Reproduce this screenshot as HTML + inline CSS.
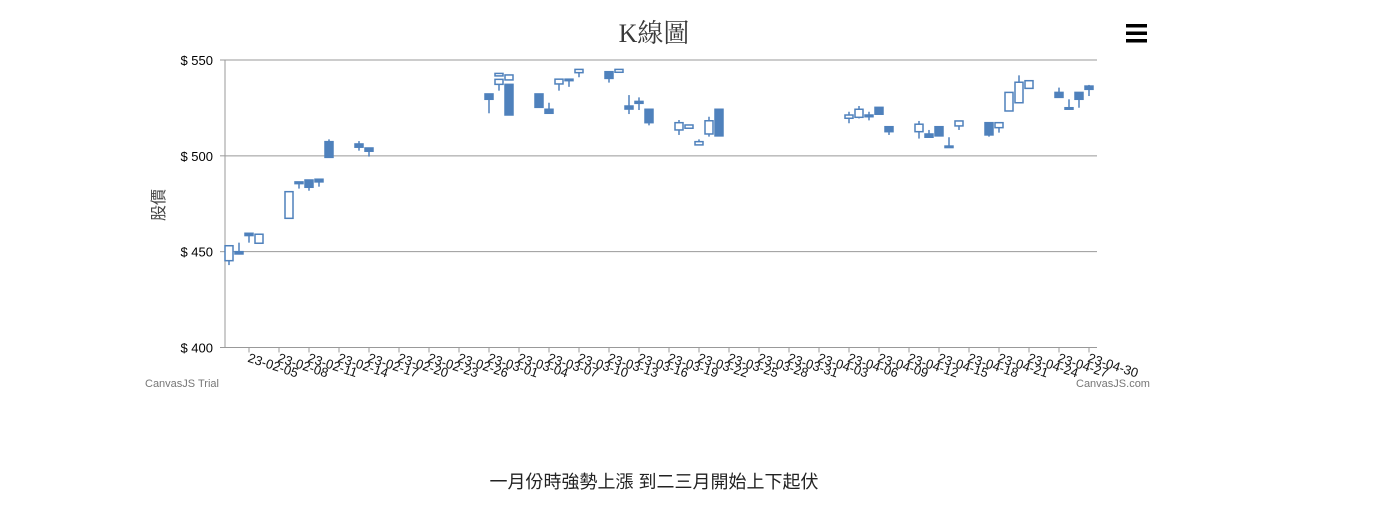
<!DOCTYPE html>
<html><head><meta charset="utf-8"><style>
body{margin:0;width:1398px;height:518px;background:#fff;overflow:hidden;font-family:"Liberation Sans","Noto Sans CJK TC",sans-serif}
</style></head><body>
<svg id="chart" width="1398" height="518" xmlns="http://www.w3.org/2000/svg">
<text x="654" y="42" text-anchor="middle" font-size="26" fill="#3a3a3a" font-family="Liberation Serif,'Noto Serif CJK SC',serif">K線圖</text>
<g><rect x="1126" y="24" width="21" height="3.5" fill="#000"/><rect x="1126" y="31.5" width="21" height="3.5" fill="#000"/><rect x="1126" y="39" width="21" height="3.5" fill="#000"/></g>
<text transform="translate(164,205) rotate(-90)" text-anchor="middle" font-size="16" fill="#444" font-family="'Noto Sans CJK TC',sans-serif">股價</text>
<g id="grid"></g><g id="xaxis"></g><g id="candles"></g>
<text x="145" y="387" font-size="11" fill="#777">CanvasJS Trial</text>
<text x="1076" y="387" font-size="11" fill="#777">CanvasJS.com</text>
<text x="654" y="488" text-anchor="middle" font-size="18" fill="#222" font-family="'Liberation Sans','Noto Sans CJK TC',sans-serif">一月份時強勢上漲 到二三月開始上下起伏</text>
</svg>
<script>
const dates=["2023-02-03","2023-02-04","2023-02-05","2023-02-06","2023-02-09","2023-02-10","2023-02-11","2023-02-12","2023-02-13","2023-02-16","2023-02-17","2023-03-01","2023-03-02","2023-03-02","2023-03-03","2023-03-03","2023-03-06","2023-03-07","2023-03-08","2023-03-09","2023-03-10","2023-03-13","2023-03-14","2023-03-15","2023-03-16","2023-03-17","2023-03-20","2023-03-21","2023-03-22","2023-03-23","2023-03-24","2023-04-06","2023-04-07","2023-04-08","2023-04-09","2023-04-10","2023-04-13","2023-04-14","2023-04-15","2023-04-16","2023-04-17","2023-04-20","2023-04-21","2023-04-22","2023-04-23","2023-04-24","2023-04-27","2023-04-28","2023-04-29","2023-04-30"];
const opens=[445.3,450,459.6,454.4,467.4,486.4,487.4,487.8,507.4,506.2,504.1,532.3,541.7,537.3,539.6,537.3,532.3,524.3,537.5,540,543.4,543.9,543.6,526,528.4,524.3,513.5,514.4,505.7,511.4,524.3,519.6,520.1,521.3,525.3,515.2,512.6,511.4,515.2,505.1,515.6,517.3,514.7,523.4,527.7,535.2,533.1,525.1,533.1,536.4];
const closes=[453.1,448.8,458.4,459.1,481.3,485.5,483.6,486.4,499.2,504.5,502.4,529.5,543,539.9,542.2,521.3,525.3,522.2,540,539.6,545.1,540.4,545.1,524.4,527.4,517.3,517.3,516.1,507.4,518.3,510.4,521.3,524.3,520.4,521.7,512.6,516.5,509.7,510.4,504.4,518.2,510.9,517.3,533.1,538.4,539.2,530.5,524.6,529.5,534.7];
const highs=[453.1,454.7,459.6,459.1,481.3,486.4,487.4,487.8,508.6,507.7,504.1,532.3,543,539.9,542.2,537.3,532.3,527.7,540,540,545.1,543.9,545.1,531.7,530.5,524.3,518.7,516.1,508.6,520.4,524.3,523,526,523,525.3,515.2,518.2,513.5,515.2,509.7,518.2,517.3,517.3,533.1,542,539.2,535.6,529.5,533.1,537];
const lows=[443,448.5,454.7,454.4,467.4,482.9,481.8,483.9,499.2,502.7,499.6,522.2,543,534,539.6,521.3,525.3,522.2,534,536,541,538.2,543.6,521.8,523.9,515.9,510.9,514.4,505.7,510,510.4,517,519.5,518.5,521.7,510.9,509,509.7,510.4,504.4,513.5,510,512.1,523.4,527.7,535.2,530.5,524.6,525.1,531.2];
const yTicks=[400,450,500,550];
const xTickLabels=["23-02-05","23-02-08","23-02-11","23-02-14","23-02-17","23-02-20","23-02-23","23-02-26","23-03-01","23-03-04","23-03-07","23-03-10","23-03-13","23-03-16","23-03-19","23-03-22","23-03-25","23-03-28","23-03-31","23-04-03","23-04-06","23-04-09","23-04-12","23-04-15","23-04-18","23-04-21","23-04-24","23-04-27","23-04-30"];
const NS="http://www.w3.org/2000/svg";
const L=225,R=1097,T=60,B=347.5;
const y=v=>T+(550-v)/150*(B-T);
const base=Date.UTC(2023,1,5);
const dayOf=s=>{const p=s.split("-").map(Number);return (Date.UTC(p[0],p[1]-1,p[2])-base)/864e5;};
const x=d=>249+10*d;
function mk(tag,attrs,parent){const e=document.createElementNS(NS,tag);for(const k in attrs)e.setAttribute(k,attrs[k]);parent.appendChild(e);return e;}
const grid=document.getElementById("grid"),xa=document.getElementById("xaxis"),cg=document.getElementById("candles");
yTicks.forEach(v=>{
  const g=mk("line",{x1:L,x2:R,y1:y(v),y2:y(v),stroke:"#999","stroke-width":1},grid);
  
  
  const t=mk("text",{x:213,y:y(v)+5,"text-anchor":"end","font-size":13,fill:"#000"},grid);
  t.textContent="$ "+v;
  
  
  mk("line",{x1:L-5,x2:L,y1:y(v),y2:y(v),stroke:"#999"},grid);
});
const ax=mk("line",{x1:L,x2:L,y1:T,y2:B,stroke:"#999"},grid);


const bx=mk("line",{x1:L,x2:R,y1:B,y2:B,stroke:"#999"},xa);


xTickLabels.forEach((s,i)=>{
  const d=dayOf("20"+s);
  const px=Math.min(x(d),R-2);
  mk("line",{x1:px,x2:px,y1:B,y2:B+5,stroke:"#999"},xa);
  const t=mk("text",{transform:`translate(${px-2},${B+14}) rotate(18)`,"font-size":13,fill:"#111"},xa);
  t.textContent=s;
  
  
});
const C="#4f81bc",W=8;
dates.forEach((s,i)=>{
  const cx=x(dayOf(s));
  const g=mk("g",{},cg);
  
  
  mk("line",{x1:cx,x2:cx,y1:y(highs[i]),y2:y(lows[i]),stroke:C,"stroke-width":1.5},g);
  const top=y(Math.max(opens[i],closes[i])),bot=y(Math.min(opens[i],closes[i]));
  const up=closes[i]>opens[i];
  mk("rect",{x:cx-W/2,y:top,width:W,height:Math.max(bot-top,1.5),fill:up?"#fff":C,stroke:C,"stroke-width":1.5},g);
});
</script>
</body></html>
